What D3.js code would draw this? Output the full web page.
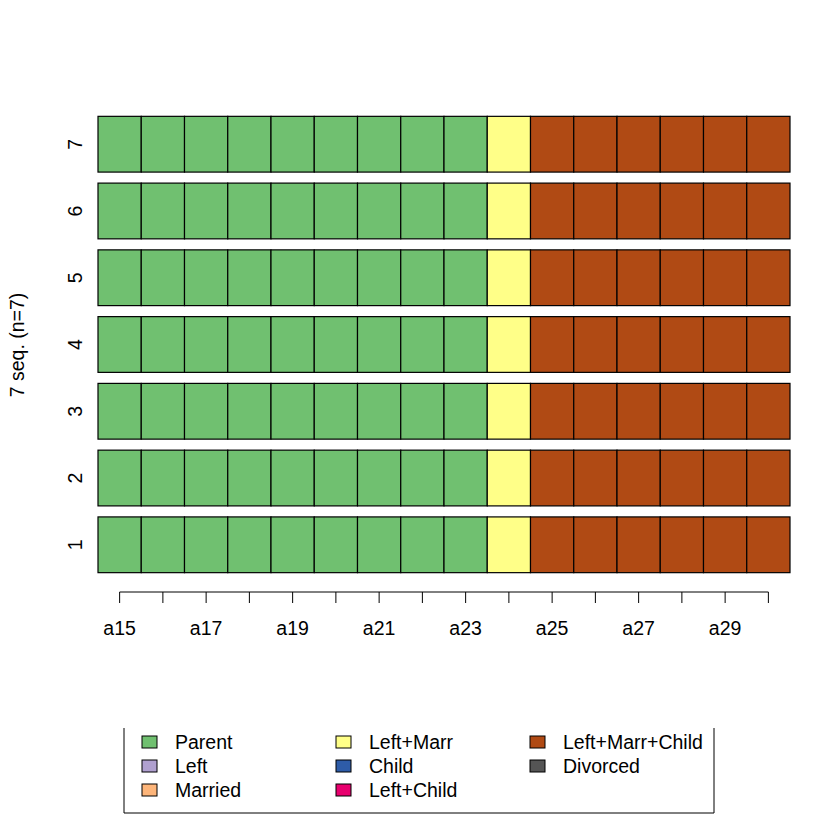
<!DOCTYPE html>
<html lang="en">
<head>
  <meta charset="UTF-8">
  <title>Sequence index plot</title>
  <script src="https://d3js.org/d3.v7.min.js" charset="utf-8"></script>
  <style>
    body { margin: 0; background: #fff; }
    text { font-family: "Liberation Sans", Arial, sans-serif; fill: #000; }
  </style>
</head>
<body>
<div class="div1"></div>
<script>
  // data
  var ages = ['a15','a16','a17','a18','a19','a20','a21','a22','a23','a24','a25','a26','a27','a28','a29','a30']
  var seqIds = ['1','2','3','4','5','6','7']
  var states = ['Parent','Left','Married','Left+Marr','Child','Left+Child','Left+Marr+Child','Divorced']
  var stateColors = ['#70c070','#b0a0d0','#fdb57a','#ffff88','#2e5ca8','#e8006e','#b04a14','#555555']
  var P = 'Parent', LM = 'Left+Marr', LMC = 'Left+Marr+Child'
  var sequences = [
    [P,P,P,P,P,P,P,P,P,LM,LMC,LMC,LMC,LMC,LMC,LMC],
    [P,P,P,P,P,P,P,P,P,LM,LMC,LMC,LMC,LMC,LMC,LMC],
    [P,P,P,P,P,P,P,P,P,LM,LMC,LMC,LMC,LMC,LMC,LMC],
    [P,P,P,P,P,P,P,P,P,LM,LMC,LMC,LMC,LMC,LMC,LMC],
    [P,P,P,P,P,P,P,P,P,LM,LMC,LMC,LMC,LMC,LMC,LMC],
    [P,P,P,P,P,P,P,P,P,LM,LMC,LMC,LMC,LMC,LMC,LMC],
    [P,P,P,P,P,P,P,P,P,LM,LMC,LMC,LMC,LMC,LMC,LMC]
  ]

  var width = 840
  var height = 840
  var fs = 19.5

  var svg = d3.select('.div1')
    .append('svg')
    .attr('width', width)
    .attr('height', height)

  var color = d3.scaleOrdinal().domain(states).range(stateColors)

  var xScale = d3.scaleBand()
    .domain(ages)
    .range([98, 790])
    .padding(0)

  var yScale = d3.scaleBand()
    .domain(seqIds.slice().reverse())
    .range([111, 578])
    .paddingInner(0.165)
    .paddingOuter(0.08)

  // cells
  sequences.forEach(function(seq, i){
    svg.selectAll('.cell' + i)
      .data(seq)
      .enter()
      .append('rect')
      .attr('class', 'cell' + i)
      .attr('x', (d, j) => xScale(ages[j]))
      .attr('y', yScale(seqIds[i]))
      .attr('width', xScale.bandwidth())
      .attr('height', yScale.bandwidth())
      .attr('fill', d => color(d))
      .attr('stroke', '#000')
      .attr('stroke-width', 1.2)
  })

  // x axis
  var xAxis = d3.axisBottom(xScale)
    .tickSize(11)
    .tickPadding(18)
    .tickFormat((d, i) => i % 2 === 0 ? d : '')
  var gx = svg.append('g')
    .attr('transform', 'translate(0,592)')
    .call(xAxis)
  gx.attr('font-size', fs).attr('font-family', null)
  gx.select('.domain')
    .attr('d', 'M' + (xScale(ages[0]) + xScale.bandwidth() / 2) + ',0H' + (xScale(ages[ages.length - 1]) + xScale.bandwidth() / 2))
    .attr('stroke', '#000')
  gx.selectAll('.tick line').attr('stroke', '#000')
  gx.selectAll('.tick text')
    .style('font-size', fs + 'px')
    .attr('fill', '#000')

  // y labels
  svg.selectAll('.ylab')
    .data(seqIds)
    .enter()
    .append('text')
    .attr('class', 'ylab')
    .attr('transform', d => 'translate(82,' + (yScale(d) + yScale.bandwidth() / 2) + ') rotate(-90)')
    .attr('text-anchor', 'middle')
    .style('font-size', fs + 'px')
    .text(d => d)

  svg.append('text')
    .attr('transform', 'translate(24,345) rotate(-90)')
    .attr('text-anchor', 'middle')
    .style('font-size', fs + 'px')
    .text('7 seq. (n=7)')

  // legend (top edge clipped like the original)
  svg.append('path')
    .attr('d', 'M124,728V813H714V728')
    .attr('fill', 'none')
    .attr('stroke', '#000')
    .attr('stroke-width', 1)

  var legX = d3.scaleBand().domain([0, 1, 2]).range([142, 724])
  var legY = d3.scaleBand().domain([0, 1, 2]).range([730, 802])

  svg.selectAll('.legRect')
    .data(states)
    .enter()
    .append('rect')
    .attr('class', 'legRect')
    .attr('x', (d, i) => legX(Math.floor(i / 3)))
    .attr('y', (d, i) => legY(i % 3) + legY.bandwidth() / 2 - 6)
    .attr('width', 15)
    .attr('height', 12)
    .attr('fill', d => color(d))
    .attr('stroke', '#000')
    .attr('stroke-width', 1)

  svg.selectAll('.legText')
    .data(states)
    .enter()
    .append('text')
    .attr('class', 'legText')
    .attr('x', (d, i) => legX(Math.floor(i / 3)) + 33)
    .attr('y', (d, i) => legY(i % 3) + legY.bandwidth() / 2 + 7)
    .style('font-size', fs + 'px')
    .text(d => d)
</script>
</body>
</html>
